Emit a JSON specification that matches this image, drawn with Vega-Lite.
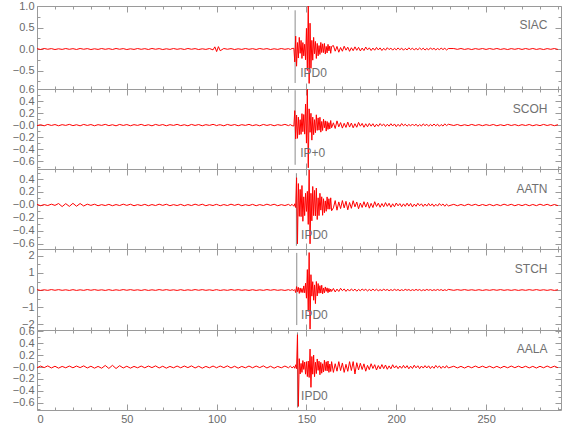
{
"$schema": "https://vega.github.io/schema/vega-lite/v6.json",
"padding": {"left": 5, "top": -1, "right": 5, "bottom": 5},
"background": "white",
"spacing": 0,
"bounds": "flush",
"config": {
  "view": {"stroke": "#9a9a9a", "strokeWidth": 1},
  "axis": {"domain": false, "grid": false, "tickColor": "#9a9a9a", "tickWidth": 1, "labelColor": "#6a6a6a", "labelFont": "Liberation Sans", "labelFontSize": 11, "labelOverlap": false, "labelBound": false, "title": null}
},
"datasets": {
"w": [
{"t":0,"SIAC":0.008,"SCOH":-0.009,"AATN":0.009,"STCH":0.02,"AALA":-0.013},
{"t":2,"SIAC":-0.011,"SCOH":0.006,"AATN":-0.012,"STCH":-0.025,"AALA":0.016},
{"t":4,"SIAC":0.012,"SCOH":-0.012,"AATN":0.006,"STCH":0.012,"AALA":-0.01},
{"t":6,"SIAC":-0.006,"SCOH":0.011,"AATN":-0.009,"STCH":-0.02,"AALA":0.019},
{"t":8,"SIAC":0.009,"SCOH":-0.006,"AATN":0.012,"STCH":0.025,"AALA":-0.016},
{"t":10,"SIAC":-0.012,"SCOH":0.009,"AATN":-0.007,"STCH":-0.015,"AALA":0.013},
{"t":12,"SIAC":0.005,"SCOH":-0.011,"AATN":0.022,"STCH":0.022,"AALA":-0.019},
{"t":14,"SIAC":-0.009,"SCOH":0.007,"AATN":-0.025,"STCH":-0.018,"AALA":0.01},
{"t":16,"SIAC":0.011,"SCOH":-0.005,"AATN":0.02,"STCH":0.012,"AALA":-0.013},
{"t":18,"SIAC":-0.007,"SCOH":0.012,"AATN":-0.022,"STCH":-0.025,"AALA":0.016},
{"t":20,"SIAC":0.008,"SCOH":-0.009,"AATN":0.025,"STCH":0.02,"AALA":-0.013},
{"t":22,"SIAC":-0.011,"SCOH":0.006,"AATN":-0.02,"STCH":-0.025,"AALA":0.016},
{"t":24,"SIAC":0.012,"SCOH":-0.012,"AATN":0.022,"STCH":0.012,"AALA":-0.01},
{"t":26,"SIAC":-0.006,"SCOH":0.011,"AATN":-0.016,"STCH":-0.02,"AALA":0.019},
{"t":28,"SIAC":0.009,"SCOH":-0.006,"AATN":0.012,"STCH":0.025,"AALA":-0.016},
{"t":30,"SIAC":-0.012,"SCOH":0.009,"AATN":-0.007,"STCH":-0.015,"AALA":0.013},
{"t":32,"SIAC":0.005,"SCOH":-0.011,"AATN":0.011,"STCH":0.022,"AALA":-0.019},
{"t":34,"SIAC":-0.009,"SCOH":0.007,"AATN":-0.012,"STCH":-0.018,"AALA":0.01},
{"t":36,"SIAC":0.011,"SCOH":-0.005,"AATN":0.005,"STCH":0.012,"AALA":-0.02},
{"t":38,"SIAC":-0.007,"SCOH":0.012,"AATN":-0.009,"STCH":-0.025,"AALA":0.026},
{"t":40,"SIAC":0.008,"SCOH":-0.009,"AATN":0.009,"STCH":0.02,"AALA":-0.024},
{"t":42,"SIAC":-0.011,"SCOH":0.006,"AATN":-0.012,"STCH":-0.025,"AALA":0.028},
{"t":44,"SIAC":0.012,"SCOH":-0.012,"AATN":0.006,"STCH":0.012,"AALA":-0.025},
{"t":46,"SIAC":-0.006,"SCOH":0.011,"AATN":-0.009,"STCH":-0.02,"AALA":0.022},
{"t":48,"SIAC":0.009,"SCOH":-0.006,"AATN":0.012,"STCH":0.025,"AALA":-0.016},
{"t":50,"SIAC":-0.012,"SCOH":0.009,"AATN":-0.007,"STCH":-0.015,"AALA":0.013},
{"t":52,"SIAC":0.005,"SCOH":-0.011,"AATN":0.011,"STCH":0.022,"AALA":-0.019},
{"t":54,"SIAC":-0.009,"SCOH":0.007,"AATN":-0.012,"STCH":-0.018,"AALA":0.01},
{"t":56,"SIAC":0.011,"SCOH":-0.005,"AATN":0.005,"STCH":0.012,"AALA":-0.013},
{"t":58,"SIAC":-0.007,"SCOH":0.012,"AATN":-0.009,"STCH":-0.025,"AALA":0.016},
{"t":60,"SIAC":0.008,"SCOH":-0.009,"AATN":0.009,"STCH":0.02,"AALA":-0.013},
{"t":62,"SIAC":-0.011,"SCOH":0.006,"AATN":-0.012,"STCH":-0.025,"AALA":0.016},
{"t":64,"SIAC":0.012,"SCOH":-0.012,"AATN":0.006,"STCH":0.012,"AALA":-0.01},
{"t":66,"SIAC":-0.006,"SCOH":0.011,"AATN":-0.009,"STCH":-0.02,"AALA":0.019},
{"t":68,"SIAC":0.009,"SCOH":-0.006,"AATN":0.012,"STCH":0.025,"AALA":-0.016},
{"t":70,"SIAC":-0.012,"SCOH":0.009,"AATN":-0.007,"STCH":-0.015,"AALA":0.013},
{"t":72,"SIAC":0.005,"SCOH":-0.011,"AATN":0.011,"STCH":0.022,"AALA":-0.019},
{"t":74,"SIAC":-0.009,"SCOH":0.007,"AATN":-0.012,"STCH":-0.018,"AALA":0.01},
{"t":76,"SIAC":0.011,"SCOH":-0.005,"AATN":0.005,"STCH":0.012,"AALA":-0.013},
{"t":78,"SIAC":-0.007,"SCOH":0.012,"AATN":-0.009,"STCH":-0.025,"AALA":0.016},
{"t":80,"SIAC":0.008,"SCOH":-0.009,"AATN":0.009,"STCH":0.02,"AALA":-0.013},
{"t":82,"SIAC":-0.011,"SCOH":0.006,"AATN":-0.012,"STCH":-0.025,"AALA":0.016},
{"t":84,"SIAC":0.012,"SCOH":-0.012,"AATN":0.006,"STCH":0.012,"AALA":-0.01},
{"t":86,"SIAC":-0.006,"SCOH":0.011,"AATN":-0.009,"STCH":-0.02,"AALA":0.019},
{"t":88,"SIAC":0.009,"SCOH":-0.006,"AATN":0.012,"STCH":0.025,"AALA":-0.016},
{"t":90,"SIAC":-0.012,"SCOH":0.009,"AATN":-0.007,"STCH":-0.015,"AALA":0.013},
{"t":92,"SIAC":0.005,"SCOH":-0.011,"AATN":0.011,"STCH":0.022,"AALA":-0.019},
{"t":94,"SIAC":-0.009,"SCOH":0.007,"AATN":-0.012,"STCH":-0.018,"AALA":0.01},
{"t":96,"SIAC":0.011,"SCOH":-0.005,"AATN":0.005,"STCH":0.012,"AALA":-0.013},
{"t":98,"SIAC":-0.02,"SCOH":0.012,"AATN":-0.009,"STCH":-0.025,"AALA":0.016},
{"t":99,"SIAC":0.05,"SCOH":0.003,"AATN":0.002,"STCH":0.004,"AALA":0.002},
{"t":100,"SIAC":-0.06,"SCOH":-0.009,"AATN":0.009,"STCH":0.02,"AALA":-0.013},
{"t":101,"SIAC":0.055,"SCOH":0.002,"AATN":-0.002,"STCH":-0.004,"AALA":0.003},
{"t":102,"SIAC":-0.04,"SCOH":0.006,"AATN":-0.012,"STCH":-0.025,"AALA":0.016},
{"t":104,"SIAC":0.012,"SCOH":-0.012,"AATN":0.006,"STCH":0.012,"AALA":-0.01},
{"t":106,"SIAC":-0.006,"SCOH":0.011,"AATN":-0.009,"STCH":-0.02,"AALA":0.019},
{"t":108,"SIAC":0.009,"SCOH":-0.006,"AATN":0.012,"STCH":0.025,"AALA":-0.016},
{"t":110,"SIAC":-0.012,"SCOH":0.009,"AATN":-0.007,"STCH":-0.015,"AALA":0.013},
{"t":112,"SIAC":0.005,"SCOH":-0.011,"AATN":0.011,"STCH":0.022,"AALA":-0.019},
{"t":114,"SIAC":-0.009,"SCOH":0.007,"AATN":-0.012,"STCH":-0.018,"AALA":0.01},
{"t":116,"SIAC":0.011,"SCOH":-0.005,"AATN":0.005,"STCH":0.012,"AALA":-0.013},
{"t":118,"SIAC":-0.007,"SCOH":0.012,"AATN":-0.009,"STCH":-0.025,"AALA":0.016},
{"t":120,"SIAC":0.008,"SCOH":-0.009,"AATN":0.009,"STCH":0.02,"AALA":-0.013},
{"t":122,"SIAC":-0.011,"SCOH":0.006,"AATN":-0.012,"STCH":-0.025,"AALA":0.016},
{"t":124,"SIAC":0.012,"SCOH":-0.012,"AATN":0.006,"STCH":0.012,"AALA":-0.01},
{"t":126,"SIAC":-0.006,"SCOH":0.011,"AATN":-0.009,"STCH":-0.02,"AALA":0.019},
{"t":128,"SIAC":0.009,"SCOH":-0.006,"AATN":0.012,"STCH":0.025,"AALA":-0.016},
{"t":130,"SIAC":-0.012,"SCOH":0.009,"AATN":-0.007,"STCH":-0.015,"AALA":0.013},
{"t":132,"SIAC":0.005,"SCOH":-0.011,"AATN":0.011,"STCH":0.022,"AALA":-0.019},
{"t":134,"SIAC":-0.009,"SCOH":0.007,"AATN":-0.012,"STCH":-0.018,"AALA":0.01},
{"t":136,"SIAC":0.011,"SCOH":-0.005,"AATN":0.005,"STCH":0.012,"AALA":-0.013},
{"t":138,"SIAC":-0.007,"SCOH":0.012,"AATN":-0.009,"STCH":-0.025,"AALA":0.016},
{"t":140,"SIAC":0.008,"SCOH":-0.009,"AATN":0.009,"STCH":0.02,"AALA":-0.013},
{"t":141,"SIAC":-0.01,"SCOH":0.008,"AATN":-0.011,"STCH":-0.022,"AALA":0.015},
{"t":142,"SIAC":0.012,"SCOH":-0.01,"AATN":0.009,"STCH":0.02,"AALA":-0.014},
{"t":143,"SIAC":0.016,"SCOH":-0.015,"AATN":-0.02,"STCH":-0.027,"AALA":0.011},
{"t":143.5,"SIAC":-0.3,"SCOH":0.24,"AATN":0.018,"STCH":0.025,"AALA":-0.021},
{"t":144,"SIAC":0.3,"SCOH":-0.23,"AATN":-0.04,"STCH":-0.15,"AALA":0.038},
{"t":144.5,"SIAC":-0.4,"SCOH":0.168,"AATN":0.42,"STCH":0.2,"AALA":-0.028},
{"t":145,"SIAC":0.15,"SCOH":-0.22,"AATN":-0.6,"STCH":-0.096,"AALA":0.54},
{"t":145.5,"SIAC":-0.21,"SCOH":0.132,"AATN":0.33,"STCH":0.154,"AALA":-0.66},
{"t":146,"SIAC":0.27,"SCOH":-0.16,"AATN":-0.176,"STCH":-0.2,"AALA":0.14},
{"t":146.5,"SIAC":-0.1,"SCOH":0.09,"AATN":0.24,"STCH":0.12,"AALA":-0.117},
{"t":147,"SIAC":0.2,"SCOH":-0.154,"AATN":-0.18,"STCH":-0.144,"AALA":0.06},
{"t":147.5,"SIAC":-0.22,"SCOH":0.19,"AATN":0.3,"STCH":0.09,"AALA":-0.09},
{"t":148,"SIAC":0.15,"SCOH":-0.11,"AATN":-0.252,"STCH":-0.154,"AALA":0.108},
{"t":148.5,"SIAC":-0.16,"SCOH":0.176,"AATN":0.125,"STCH":0.24,"AALA":-0.04},
{"t":149,"SIAC":0.11,"SCOH":-0.15,"AATN":-0.165,"STCH":-0.165,"AALA":0.084},
{"t":149.5,"SIAC":-0.25,"SCOH":0.35,"AATN":0.18,"STCH":0.4,"AALA":-0.12},
{"t":150,"SIAC":0.48,"SCOH":-0.3,"AATN":-0.1,"STCH":-0.48,"AALA":0.09},
{"t":150.5,"SIAC":-0.5,"SCOH":0.6,"AATN":0.21,"STCH":1.2,"AALA":-0.16},
{"t":151,"SIAC":1.0,"SCOH":-0.71,"AATN":-0.3,"STCH":-1.26,"AALA":0.1},
{"t":151.5,"SIAC":-0.8,"SCOH":0.27,"AATN":0.54,"STCH":2.2,"AALA":-0.175},
{"t":152,"SIAC":0.6,"SCOH":-0.12,"AATN":-0.6,"STCH":-2.3,"AALA":0.3},
{"t":152.5,"SIAC":-0.45,"SCOH":0.196,"AATN":0.18,"STCH":0.9,"AALA":-0.34},
{"t":153,"SIAC":0.2,"SCOH":-0.25,"AATN":-0.245,"STCH":-0.36,"AALA":0.176},
{"t":153.5,"SIAC":-0.26,"SCOH":0.132,"AATN":0.285,"STCH":0.49,"AALA":-0.12},
{"t":154,"SIAC":0.27,"SCOH":-0.16,"AATN":-0.165,"STCH":-0.6,"AALA":0.2},
{"t":154.5,"SIAC":-0.11,"SCOH":0.09,"AATN":0.224,"STCH":0.3,"AALA":-0.162},
{"t":155,"SIAC":0.175,"SCOH":-0.126,"AATN":-0.168,"STCH":-0.8,"AALA":0.08},
{"t":155.5,"SIAC":-0.22,"SCOH":0.171,"AATN":0.26,"STCH":0.5,"AALA":-0.11},
{"t":156,"SIAC":0.13,"SCOH":-0.088,"AATN":-0.225,"STCH":-0.35,"AALA":0.135},
{"t":156.5,"SIAC":-0.16,"SCOH":0.12,"AATN":0.11,"STCH":0.38,"AALA":-0.056},
{"t":157,"SIAC":0.08,"SCOH":-0.084,"AATN":-0.165,"STCH":-0.19,"AALA":0.098},
{"t":157.5,"SIAC":-0.126,"SCOH":0.13,"AATN":0.18,"STCH":0.256,"AALA":-0.13},
{"t":158,"SIAC":0.152,"SCOH":-0.117,"AATN":-0.08,"STCH":-0.18,"AALA":0.078},
{"t":158.5,"SIAC":-0.083,"SCOH":0.06,"AATN":0.126,"STCH":0.28,"AALA":-0.104},
{"t":159,"SIAC":0.12,"SCOH":-0.09,"AATN":-0.16,"STCH":-0.225,"AALA":0.054},
{"t":159.5,"SIAC":-0.084,"SCOH":0.099,"AATN":0.096,"STCH":0.12,"AALA":-0.084},
{"t":160,"SIAC":0.13,"SCOH":-0.044,"AATN":-0.12,"STCH":-0.165,"AALA":0.114},
{"t":160.5,"SIAC":-0.117,"SCOH":0.07,"AATN":0.063,"STCH":0.18,"AALA":-0.06},
{"t":161,"SIAC":0.06,"SCOH":-0.1,"AATN":-0.098,"STCH":-0.08,"AALA":0.088},
{"t":161.5,"SIAC":-0.09,"SCOH":0.06,"AATN":0.124,"STCH":0.126,"AALA":-0.066},
{"t":162,"SIAC":0.108,"SCOH":-0.072,"AATN":-0.066,"STCH":-0.16,"AALA":0.1},
{"t":162.5,"SIAC":-0.044,"SCOH":0.04,"AATN":0.096,"STCH":0.09,"AALA":-0.09},
{"t":163,"SIAC":0.07,"SCOH":-0.063,"AATN":-0.066,"STCH":-0.112,"AALA":0.05},
{"t":163.5,"SIAC":-0.1,"SCOH":0.076,"AATN":0.11,"STCH":0.059,"AALA":-0.075},
{"t":164,"SIAC":0.06,"SCOH":-0.044,"AATN":-0.09,"STCH":-0.084,"AALA":0.09},
{"t":165,"SIAC":0.081,"SCOH":0.038,"AATN":-0.045,"STCH":0.09,"AALA":-0.09},
{"t":166,"SIAC":-0.051,"SCOH":-0.056,"AATN":0.067,"STCH":-0.115,"AALA":0.055},
{"t":167,"SIAC":0.06,"SCOH":0.07,"AATN":-0.081,"STCH":0.055,"AALA":-0.07},
{"t":168,"SIAC":-0.075,"SCOH":-0.029,"AATN":0.047,"STCH":-0.084,"AALA":0.09},
{"t":169,"SIAC":0.035,"SCOH":0.042,"AATN":-0.056,"STCH":0.1,"AALA":-0.06},
{"t":170,"SIAC":-0.052,"SCOH":-0.05,"AATN":0.068,"STCH":-0.041,"AALA":0.068},
{"t":171,"SIAC":0.065,"SCOH":0.03,"AATN":-0.045,"STCH":0.063,"AALA":-0.09},
{"t":172,"SIAC":-0.027,"SCOH":-0.039,"AATN":0.056,"STCH":-0.081,"AALA":0.045},
{"t":173,"SIAC":0.042,"SCOH":0.05,"AATN":-0.075,"STCH":0.05,"AALA":-0.072},
{"t":174,"SIAC":-0.054,"SCOH":-0.033,"AATN":0.038,"STCH":-0.063,"AALA":0.09},
{"t":175,"SIAC":0.03,"SCOH":0.034,"AATN":-0.052,"STCH":0.063,"AALA":-0.059},
{"t":176,"SIAC":-0.039,"SCOH":-0.045,"AATN":0.065,"STCH":-0.042,"AALA":0.091},
{"t":177,"SIAC":0.05,"SCOH":0.023,"AATN":-0.029,"STCH":0.053,"AALA":-0.117},
{"t":178,"SIAC":-0.03,"SCOH":-0.036,"AATN":0.046,"STCH":-0.07,"AALA":0.072},
{"t":179,"SIAC":0.038,"SCOH":0.045,"AATN":-0.059,"STCH":0.035,"AALA":-0.049},
{"t":180,"SIAC":-0.045,"SCOH":-0.018,"AATN":0.03,"STCH":-0.048,"AALA":0.063},
{"t":181,"SIAC":0.023,"SCOH":0.028,"AATN":-0.039,"STCH":0.06,"AALA":-0.042},
{"t":182,"SIAC":-0.036,"SCOH":-0.036,"AATN":0.05,"STCH":-0.027,"AALA":0.053},
{"t":183,"SIAC":0.045,"SCOH":0.022,"AATN":-0.033,"STCH":0.042,"AALA":-0.07},
{"t":184,"SIAC":-0.02,"SCOH":-0.028,"AATN":0.041,"STCH":-0.054,"AALA":0.028},
{"t":185,"SIAC":0.028,"SCOH":0.027,"AATN":-0.05,"STCH":0.033,"AALA":-0.044},
{"t":186,"SIAC":-0.036,"SCOH":-0.018,"AATN":0.025,"STCH":-0.042,"AALA":0.055},
{"t":187,"SIAC":0.022,"SCOH":0.023,"AATN":-0.04,"STCH":0.054,"AALA":-0.025},
{"t":188,"SIAC":-0.028,"SCOH":-0.03,"AATN":0.05,"STCH":-0.036,"AALA":0.039},
{"t":189,"SIAC":0.036,"SCOH":0.015,"AATN":-0.023,"STCH":0.045,"AALA":-0.05},
{"t":190,"SIAC":-0.021,"SCOH":-0.02,"AATN":0.028,"STCH":-0.045,"AALA":0.025},
{"t":191,"SIAC":0.026,"SCOH":0.025,"AATN":-0.036,"STCH":0.023,"AALA":-0.032},
{"t":192,"SIAC":-0.035,"SCOH":-0.011,"AATN":0.022,"STCH":-0.036,"AALA":0.041},
{"t":193,"SIAC":0.018,"SCOH":0.018,"AATN":-0.028,"STCH":0.045,"AALA":-0.027},
{"t":194,"SIAC":-0.028,"SCOH":-0.023,"AATN":0.036,"STCH":-0.02,"AALA":0.034},
{"t":195,"SIAC":0.03,"SCOH":0.014,"AATN":-0.021,"STCH":0.032,"AALA":-0.038},
{"t":196,"SIAC":-0.014,"SCOH":-0.018,"AATN":0.026,"STCH":-0.041,"AALA":0.019},
{"t":197,"SIAC":0.021,"SCOH":0.023,"AATN":-0.035,"STCH":0.025,"AALA":-0.03},
{"t":198,"SIAC":-0.027,"SCOH":-0.015,"AATN":0.018,"STCH":-0.032,"AALA":0.038},
{"t":199,"SIAC":0.017,"SCOH":0.019,"AATN":-0.028,"STCH":0.041,"AALA":-0.017},
{"t":200,"SIAC":-0.02,"SCOH":-0.025,"AATN":0.03,"STCH":-0.024,"AALA":0.021},
{"t":201,"SIAC":0.025,"SCOH":0.013,"AATN":-0.014,"STCH":0.03,"AALA":-0.027},
{"t":202,"SIAC":-0.017,"SCOH":-0.02,"AATN":0.021,"STCH":-0.04,"AALA":0.017},
{"t":203,"SIAC":0.021,"SCOH":0.025,"AATN":-0.027,"STCH":0.02,"AALA":-0.021},
{"t":204,"SIAC":-0.028,"SCOH":-0.011,"AATN":0.017,"STCH":-0.032,"AALA":0.027},
{"t":205,"SIAC":0.014,"SCOH":0.014,"AATN":-0.021,"STCH":0.04,"AALA":-0.018},
{"t":206,"SIAC":-0.022,"SCOH":-0.018,"AATN":0.027,"STCH":-0.018,"AALA":0.023},
{"t":207,"SIAC":0.028,"SCOH":0.011,"AATN":-0.018,"STCH":0.028,"AALA":-0.03},
{"t":208,"SIAC":-0.013,"SCOH":-0.014,"AATN":0.023,"STCH":-0.036,"AALA":0.015},
{"t":209,"SIAC":0.02,"SCOH":0.018,"AATN":-0.03,"STCH":0.022,"AALA":-0.024},
{"t":210,"SIAC":-0.023,"SCOH":-0.012,"AATN":0.013,"STCH":-0.028,"AALA":0.03},
{"t":211,"SIAC":0.014,"SCOH":0.015,"AATN":-0.021,"STCH":0.036,"AALA":-0.014},
{"t":212,"SIAC":-0.018,"SCOH":-0.02,"AATN":0.026,"STCH":-0.024,"AALA":0.021},
{"t":213,"SIAC":0.023,"SCOH":0.01,"AATN":-0.012,"STCH":0.03,"AALA":-0.027},
{"t":214,"SIAC":-0.015,"SCOH":-0.016,"AATN":0.018,"STCH":-0.04,"AALA":0.017},
{"t":215,"SIAC":0.019,"SCOH":0.02,"AATN":-0.023,"STCH":0.018,"AALA":-0.018},
{"t":216,"SIAC":-0.025,"SCOH":-0.009,"AATN":0.014,"STCH":-0.028,"AALA":0.023},
{"t":217,"SIAC":0.013,"SCOH":0.014,"AATN":-0.018,"STCH":0.035,"AALA":-0.016},
{"t":218,"SIAC":-0.02,"SCOH":-0.018,"AATN":0.023,"STCH":-0.016,"AALA":0.02},
{"t":219,"SIAC":0.025,"SCOH":0.011,"AATN":-0.016,"STCH":0.025,"AALA":-0.026},
{"t":220,"SIAC":-0.01,"SCOH":-0.014,"AATN":0.017,"STCH":-0.032,"AALA":0.013},
{"t":221,"SIAC":0.015,"SCOH":0.018,"AATN":-0.022,"STCH":0.019,"AALA":-0.021},
{"t":222,"SIAC":-0.02,"SCOH":-0.012,"AATN":0.011,"STCH":-0.025,"AALA":0.026},
{"t":223,"SIAC":0.012,"SCOH":0.015,"AATN":-0.018,"STCH":0.032,"AALA":-0.012},
{"t":224,"SIAC":-0.015,"SCOH":-0.02,"AATN":0.022,"STCH":-0.021,"AALA":0.018},
{"t":225,"SIAC":0.02,"SCOH":0.01,"AATN":-0.01,"STCH":0.026,"AALA":-0.023},
{"t":226,"SIAC":-0.013,"SCOH":-0.016,"AATN":0.015,"STCH":-0.035,"AALA":0.014},
{"t":227,"SIAC":0.017,"SCOH":0.02,"AATN":-0.02,"STCH":0.018,"AALA":-0.018},
{"t":228,"SIAC":-0.022,"SCOH":-0.009,"AATN":0.012,"STCH":-0.028,"AALA":0.023},
{"t":229,"SIAC":0.011,"SCOH":0.014,"AATN":-0.015,"STCH":0.035,"AALA":-0.016},
{"t":232,"SIAC":0.011,"SCOH":-0.007,"AATN":0.009,"STCH":-0.018,"AALA":0.013},
{"t":234,"SIAC":-0.008,"SCOH":0.01,"AATN":-0.012,"STCH":0.021,"AALA":-0.015},
{"t":236,"SIAC":0.012,"SCOH":-0.011,"AATN":0.007,"STCH":-0.015,"AALA":0.011},
{"t":238,"SIAC":-0.01,"SCOH":0.006,"AATN":-0.011,"STCH":0.024,"AALA":-0.017},
{"t":240,"SIAC":0.007,"SCOH":-0.009,"AATN":0.012,"STCH":-0.018,"AALA":0.012},
{"t":242,"SIAC":-0.012,"SCOH":0.011,"AATN":-0.008,"STCH":0.015,"AALA":-0.013},
{"t":244,"SIAC":0.009,"SCOH":-0.007,"AATN":0.01,"STCH":-0.021,"AALA":0.016},
{"t":246,"SIAC":-0.007,"SCOH":0.008,"AATN":-0.012,"STCH":0.018,"AALA":-0.011},
{"t":248,"SIAC":0.011,"SCOH":-0.01,"AATN":0.007,"STCH":-0.024,"AALA":0.014},
{"t":250,"SIAC":-0.01,"SCOH":0.007,"AATN":-0.01,"STCH":0.015,"AALA":-0.012},
{"t":252,"SIAC":0.011,"SCOH":-0.007,"AATN":0.009,"STCH":-0.018,"AALA":0.013},
{"t":254,"SIAC":-0.008,"SCOH":0.01,"AATN":-0.012,"STCH":0.021,"AALA":-0.015},
{"t":256,"SIAC":0.012,"SCOH":-0.011,"AATN":0.007,"STCH":-0.015,"AALA":0.011},
{"t":258,"SIAC":-0.01,"SCOH":0.006,"AATN":-0.011,"STCH":0.024,"AALA":-0.017},
{"t":260,"SIAC":0.007,"SCOH":-0.009,"AATN":0.012,"STCH":-0.018,"AALA":0.012},
{"t":262,"SIAC":-0.012,"SCOH":0.011,"AATN":-0.008,"STCH":0.015,"AALA":-0.013},
{"t":264,"SIAC":0.009,"SCOH":-0.007,"AATN":0.01,"STCH":-0.021,"AALA":0.016},
{"t":266,"SIAC":-0.007,"SCOH":0.008,"AATN":-0.012,"STCH":0.018,"AALA":-0.011},
{"t":268,"SIAC":0.011,"SCOH":-0.01,"AATN":0.007,"STCH":-0.024,"AALA":0.014},
{"t":270,"SIAC":-0.01,"SCOH":0.007,"AATN":-0.01,"STCH":0.015,"AALA":-0.012},
{"t":272,"SIAC":0.011,"SCOH":-0.007,"AATN":0.009,"STCH":-0.018,"AALA":0.013},
{"t":274,"SIAC":-0.008,"SCOH":0.01,"AATN":-0.012,"STCH":0.021,"AALA":-0.015},
{"t":276,"SIAC":0.012,"SCOH":-0.011,"AATN":0.007,"STCH":-0.015,"AALA":0.011},
{"t":278,"SIAC":-0.01,"SCOH":0.006,"AATN":-0.011,"STCH":0.024,"AALA":-0.017},
{"t":280,"SIAC":0.007,"SCOH":-0.009,"AATN":0.012,"STCH":-0.018,"AALA":0.012},
{"t":282,"SIAC":-0.012,"SCOH":0.011,"AATN":-0.008,"STCH":0.015,"AALA":-0.013},
{"t":284,"SIAC":0.009,"SCOH":-0.007,"AATN":0.01,"STCH":-0.021,"AALA":0.016},
{"t":286,"SIAC":-0.007,"SCOH":0.008,"AATN":-0.012,"STCH":0.018,"AALA":-0.011},
{"t":288,"SIAC":0.011,"SCOH":-0.01,"AATN":0.007,"STCH":-0.024,"AALA":0.014},
{"t":290,"SIAC":-0.01,"SCOH":0.007,"AATN":-0.01,"STCH":0.015,"AALA":-0.012}
]
},
"vconcat": [
{
 "width": 524, "height": 83,
 "resolve": {"axis": {"x": "independent", "y": "independent"}},
 "layer": [
  {"data": {"values": [{}]}, "mark": {"type": "rule", "color": "#8c8c8c", "strokeWidth": 1},
   "encoding": {
    "x": {"datum": 143.7, "type": "quantitative", "scale": {"domain": [0, 291.7], "nice": false, "zero": false},
          "axis": {"orient": "top", "values": [0,10,20,30,40,50,60,70,80,90,100,110,120,130,140,150,160,170,180,190,200,210,220,230,240,250,260,270,280,290], "labels": false, "tickSize": {"condition": {"test": "datum.value % 50 == 0", "value": -6}, "value": -3}, "minExtent": 0, "maxExtent": 0}},
    "y": {"datum": 0.9, "type": "quantitative", "scale": {"domain": [-0.93, 1.0], "nice": false, "zero": false},
          "axis": {"orient": "right", "values": [-0.75,-0.5,-0.25,0,0.25,0.5,0.75,1], "labels": false, "tickSize": {"condition": {"test": "abs(round(datum.value*4)) % 2 == 0", "value": -6}, "value": -3}, "minExtent": 0, "maxExtent": 0}},
    "y2": {"datum": -0.79}
   }},
  {"data": {"name": "w"}, "mark": {"type": "line", "color": "#ff0000", "strokeWidth": 1},
   "encoding": {
    "x": {"field": "t", "type": "quantitative", "scale": {"domain": [0, 291.7], "nice": false, "zero": false},
          "axis": {"orient": "bottom", "values": [0,10,20,30,40,50,60,70,80,90,100,110,120,130,140,150,160,170,180,190,200,210,220,230,240,250,260,270,280,290], "labels": false, "tickSize": {"condition": {"test": "datum.value % 50 == 0", "value": -6}, "value": -3}, "minExtent": 0, "maxExtent": 0}},
    "y": {"field": "SIAC", "type": "quantitative", "scale": {"domain": [-0.93, 1.0], "nice": false, "zero": false},
          "axis": {"orient": "left", "values": [-0.75,-0.5,-0.25,0,0.25,0.5,0.75,1], "labelExpr": "abs(round(datum.value*4)) % 2 == 0 ? format(datum.value, '.1f') : ''", "labelPadding": 9, "tickSize": {"condition": {"test": "abs(round(datum.value*4)) % 2 == 0", "value": -6}, "value": -3}, "minExtent": 31, "maxExtent": 31}}
   }},
  {"data": {"values": [{}]}, "mark": {"type": "text", "text": "IPD0", "align": "left", "baseline": "middle", "color": "#707070", "font": "Liberation Sans", "fontSize": 12},
   "encoding": {
    "x": {"datum": 146.5, "type": "quantitative", "axis": null, "scale": {"domain": [0, 291.7], "nice": false, "zero": false}},
    "y": {"datum": -0.55, "type": "quantitative", "axis": null, "scale": {"domain": [-0.93, 1.0], "nice": false, "zero": false}}
   }},
  {"data": {"values": [{}]}, "mark": {"type": "text", "text": "SIAC", "align": "right", "baseline": "middle", "color": "#707070", "font": "Liberation Sans", "fontSize": 12},
   "encoding": {
    "x": {"datum": 284.2, "type": "quantitative", "axis": null, "scale": {"domain": [0, 291.7], "nice": false, "zero": false}},
    "y": {"datum": 0.55, "type": "quantitative", "axis": null, "scale": {"domain": [-0.93, 1.0], "nice": false, "zero": false}}
   }}
 ]
},
{
 "width": 524, "height": 80,
 "resolve": {"axis": {"x": "independent", "y": "independent"}},
 "layer": [
  {"data": {"values": [{}]}, "mark": {"type": "rule", "color": "#8c8c8c", "strokeWidth": 1},
   "encoding": {
    "x": {"datum": 143.7, "type": "quantitative", "scale": {"domain": [0, 291.7], "nice": false, "zero": false},
          "axis": {"orient": "top", "values": [0,10,20,30,40,50,60,70,80,90,100,110,120,130,140,150,160,170,180,190,200,210,220,230,240,250,260,270,280,290], "labels": false, "tickSize": {"condition": {"test": "datum.value % 50 == 0", "value": -6}, "value": -3}, "minExtent": 0, "maxExtent": 0}},
    "y": {"datum": 0.58, "type": "quantitative", "scale": {"domain": [-0.73, 0.6], "nice": false, "zero": false},
          "axis": {"orient": "right", "values": [-0.7,-0.6,-0.5,-0.4,-0.3,-0.2,-0.1,0,0.1,0.2,0.3,0.4,0.5,0.6], "labels": false, "tickSize": {"condition": {"test": "abs(round(datum.value*10)) % 2 == 0", "value": -6}, "value": -3}, "minExtent": 0, "maxExtent": 0}},
    "y2": {"datum": -0.66}
   }},
  {"data": {"name": "w"}, "mark": {"type": "line", "color": "#ff0000", "strokeWidth": 1},
   "encoding": {
    "x": {"field": "t", "type": "quantitative", "scale": {"domain": [0, 291.7], "nice": false, "zero": false},
          "axis": {"orient": "bottom", "values": [0,10,20,30,40,50,60,70,80,90,100,110,120,130,140,150,160,170,180,190,200,210,220,230,240,250,260,270,280,290], "labels": false, "tickSize": {"condition": {"test": "datum.value % 50 == 0", "value": -6}, "value": -3}, "minExtent": 0, "maxExtent": 0}},
    "y": {"field": "SCOH", "type": "quantitative", "scale": {"domain": [-0.73, 0.6], "nice": false, "zero": false},
          "axis": {"orient": "left", "values": [-0.7,-0.6,-0.5,-0.4,-0.3,-0.2,-0.1,0,0.1,0.2,0.3,0.4,0.5,0.6], "labelExpr": "datum.value == 0 ? '−0.0' : (abs(round(datum.value*10)) % 2 == 0 ? format(datum.value, '.1f') : '')", "labelPadding": 9, "tickSize": {"condition": {"test": "abs(round(datum.value*10)) % 2 == 0", "value": -6}, "value": -3}, "minExtent": 31, "maxExtent": 31}}
   }},
  {"data": {"values": [{}]}, "mark": {"type": "text", "text": "IP+0", "align": "left", "baseline": "middle", "color": "#707070", "font": "Liberation Sans", "fontSize": 12},
   "encoding": {
    "x": {"datum": 146.5, "type": "quantitative", "axis": null, "scale": {"domain": [0, 291.7], "nice": false, "zero": false}},
    "y": {"datum": -0.47, "type": "quantitative", "axis": null, "scale": {"domain": [-0.73, 0.6], "nice": false, "zero": false}}
   }},
  {"data": {"values": [{}]}, "mark": {"type": "text", "text": "SCOH", "align": "right", "baseline": "middle", "color": "#707070", "font": "Liberation Sans", "fontSize": 12},
   "encoding": {
    "x": {"datum": 284.2, "type": "quantitative", "axis": null, "scale": {"domain": [0, 291.7], "nice": false, "zero": false}},
    "y": {"datum": 0.26, "type": "quantitative", "axis": null, "scale": {"domain": [-0.73, 0.6], "nice": false, "zero": false}}
   }}
 ]
},
{
 "width": 524, "height": 80,
 "resolve": {"axis": {"x": "independent", "y": "independent"}},
 "layer": [
  {"data": {"values": [{}]}, "mark": {"type": "rule", "color": "#8c8c8c", "strokeWidth": 1},
   "encoding": {
    "x": {"datum": 144.4, "type": "quantitative", "scale": {"domain": [0, 291.7], "nice": false, "zero": false},
          "axis": {"orient": "top", "values": [0,10,20,30,40,50,60,70,80,90,100,110,120,130,140,150,160,170,180,190,200,210,220,230,240,250,260,270,280,290], "labels": false, "tickSize": {"condition": {"test": "datum.value % 50 == 0", "value": -6}, "value": -3}, "minExtent": 0, "maxExtent": 0}},
    "y": {"datum": 0.49, "type": "quantitative", "scale": {"domain": [-0.68, 0.555], "nice": false, "zero": false},
          "axis": {"orient": "right", "values": [-0.6,-0.5,-0.4,-0.3,-0.2,-0.1,0,0.1,0.2,0.3,0.4,0.5], "labels": false, "tickSize": {"condition": {"test": "abs(round(datum.value*10)) % 2 == 0", "value": -6}, "value": -3}, "minExtent": 0, "maxExtent": 0}},
    "y2": {"datum": -0.63}
   }},
  {"data": {"name": "w"}, "mark": {"type": "line", "color": "#ff0000", "strokeWidth": 1},
   "encoding": {
    "x": {"field": "t", "type": "quantitative", "scale": {"domain": [0, 291.7], "nice": false, "zero": false},
          "axis": {"orient": "bottom", "values": [0,10,20,30,40,50,60,70,80,90,100,110,120,130,140,150,160,170,180,190,200,210,220,230,240,250,260,270,280,290], "labels": false, "tickSize": {"condition": {"test": "datum.value % 50 == 0", "value": -6}, "value": -3}, "minExtent": 0, "maxExtent": 0}},
    "y": {"field": "AATN", "type": "quantitative", "scale": {"domain": [-0.68, 0.555], "nice": false, "zero": false},
          "axis": {"orient": "left", "values": [-0.6,-0.5,-0.4,-0.3,-0.2,-0.1,0,0.1,0.2,0.3,0.4,0.5], "labelExpr": "datum.value == 0 ? '−0.0' : (abs(round(datum.value*10)) % 2 == 0 ? format(datum.value, '.1f') : '')", "labelPadding": 9, "tickSize": {"condition": {"test": "abs(round(datum.value*10)) % 2 == 0", "value": -6}, "value": -3}, "minExtent": 31, "maxExtent": 31}}
   }},
  {"data": {"values": [{}]}, "mark": {"type": "text", "text": "IPD0", "align": "left", "baseline": "middle", "color": "#707070", "font": "Liberation Sans", "fontSize": 12},
   "encoding": {
    "x": {"datum": 147.0, "type": "quantitative", "axis": null, "scale": {"domain": [0, 291.7], "nice": false, "zero": false}},
    "y": {"datum": -0.46, "type": "quantitative", "axis": null, "scale": {"domain": [-0.68, 0.555], "nice": false, "zero": false}}
   }},
  {"data": {"values": [{}]}, "mark": {"type": "text", "text": "AATN", "align": "right", "baseline": "middle", "color": "#707070", "font": "Liberation Sans", "fontSize": 12},
   "encoding": {
    "x": {"datum": 284.2, "type": "quantitative", "axis": null, "scale": {"domain": [0, 291.7], "nice": false, "zero": false}},
    "y": {"datum": 0.25, "type": "quantitative", "axis": null, "scale": {"domain": [-0.68, 0.555], "nice": false, "zero": false}}
   }}
 ]
},
{
 "width": 524, "height": 81,
 "resolve": {"axis": {"x": "independent", "y": "independent"}},
 "layer": [
  {"data": {"values": [{}]}, "mark": {"type": "rule", "color": "#8c8c8c", "strokeWidth": 1},
   "encoding": {
    "x": {"datum": 144.6, "type": "quantitative", "scale": {"domain": [0, 291.7], "nice": false, "zero": false},
          "axis": {"orient": "top", "values": [0,10,20,30,40,50,60,70,80,90,100,110,120,130,140,150,160,170,180,190,200,210,220,230,240,250,260,270,280,290], "labels": false, "tickSize": {"condition": {"test": "datum.value % 50 == 0", "value": -6}, "value": -3}, "minExtent": 0, "maxExtent": 0}},
    "y": {"datum": 2.18, "type": "quantitative", "scale": {"domain": [-2.35, 2.41], "nice": false, "zero": false},
          "axis": {"orient": "right", "values": [-2,-1.5,-1,-0.5,0,0.5,1,1.5,2], "labels": false, "tickSize": {"condition": {"test": "abs(round(datum.value*2)) % 2 == 0", "value": -6}, "value": -3}, "minExtent": 0, "maxExtent": 0}},
    "y2": {"datum": -2.06}
   }},
  {"data": {"name": "w"}, "mark": {"type": "line", "color": "#ff0000", "strokeWidth": 1},
   "encoding": {
    "x": {"field": "t", "type": "quantitative", "scale": {"domain": [0, 291.7], "nice": false, "zero": false},
          "axis": {"orient": "bottom", "values": [0,10,20,30,40,50,60,70,80,90,100,110,120,130,140,150,160,170,180,190,200,210,220,230,240,250,260,270,280,290], "labels": false, "tickSize": {"condition": {"test": "datum.value % 50 == 0", "value": -6}, "value": -3}, "minExtent": 0, "maxExtent": 0}},
    "y": {"field": "STCH", "type": "quantitative", "scale": {"domain": [-2.35, 2.41], "nice": false, "zero": false},
          "axis": {"orient": "left", "values": [-2,-1.5,-1,-0.5,0,0.5,1,1.5,2], "labelExpr": "abs(round(datum.value*2)) % 2 == 0 ? format(datum.value, 'd') : ''", "labelPadding": 9, "tickSize": {"condition": {"test": "abs(round(datum.value*2)) % 2 == 0", "value": -6}, "value": -3}, "minExtent": 31, "maxExtent": 31}}
   }},
  {"data": {"values": [{}]}, "mark": {"type": "text", "text": "IPD0", "align": "left", "baseline": "middle", "color": "#707070", "font": "Liberation Sans", "fontSize": 12},
   "encoding": {
    "x": {"datum": 147.0, "type": "quantitative", "axis": null, "scale": {"domain": [0, 291.7], "nice": false, "zero": false}},
    "y": {"datum": -1.47, "type": "quantitative", "axis": null, "scale": {"domain": [-2.35, 2.41], "nice": false, "zero": false}}
   }},
  {"data": {"values": [{}]}, "mark": {"type": "text", "text": "STCH", "align": "right", "baseline": "middle", "color": "#707070", "font": "Liberation Sans", "fontSize": 12},
   "encoding": {
    "x": {"datum": 284.2, "type": "quantitative", "axis": null, "scale": {"domain": [0, 291.7], "nice": false, "zero": false}},
    "y": {"datum": 1.26, "type": "quantitative", "axis": null, "scale": {"domain": [-2.35, 2.41], "nice": false, "zero": false}}
   }}
 ]
},
{
 "width": 524, "height": 80,
 "resolve": {"axis": {"x": "independent", "y": "independent"}},
 "layer": [
  {"data": {"values": [{}]}, "mark": {"type": "rule", "color": "#8c8c8c", "strokeWidth": 1},
   "encoding": {
    "x": {"datum": 145.0, "type": "quantitative", "scale": {"domain": [0, 291.7], "nice": false, "zero": false},
          "axis": {"orient": "top", "values": [0,10,20,30,40,50,60,70,80,90,100,110,120,130,140,150,160,170,180,190,200,210,220,230,240,250,260,270,280,290], "labels": false, "tickSize": {"condition": {"test": "datum.value % 50 == 0", "value": -6}, "value": -3}, "minExtent": 0, "maxExtent": 0}},
    "y": {"datum": 0.58, "type": "quantitative", "scale": {"domain": [-0.72, 0.62], "nice": false, "zero": false},
          "axis": {"orient": "right", "values": [-0.7,-0.6,-0.5,-0.4,-0.3,-0.2,-0.1,0,0.1,0.2,0.3,0.4,0.5,0.6], "labels": false, "tickSize": {"condition": {"test": "abs(round(datum.value*10)) % 2 == 0", "value": -6}, "value": -3}, "minExtent": 0, "maxExtent": 0}},
    "y2": {"datum": -0.68}
   }},
  {"data": {"name": "w"}, "mark": {"type": "line", "color": "#ff0000", "strokeWidth": 1},
   "encoding": {
    "x": {"field": "t", "type": "quantitative", "scale": {"domain": [0, 291.7], "nice": false, "zero": false},
          "axis": {"orient": "bottom", "values": [0,10,20,30,40,50,60,70,80,90,100,110,120,130,140,150,160,170,180,190,200,210,220,230,240,250,260,270,280,290], "labelExpr": "datum.value % 50 == 0 ? format(datum.value, 'd') : ''", "labelPadding": 9, "tickSize": {"condition": {"test": "datum.value % 50 == 0", "value": -6}, "value": -3}}},
    "y": {"field": "AALA", "type": "quantitative", "scale": {"domain": [-0.72, 0.62], "nice": false, "zero": false},
          "axis": {"orient": "left", "values": [-0.7,-0.6,-0.5,-0.4,-0.3,-0.2,-0.1,0,0.1,0.2,0.3,0.4,0.5,0.6], "labelExpr": "datum.value == 0 ? '−0.0' : (abs(round(datum.value*10)) % 2 == 0 ? format(datum.value, '.1f') : '')", "labelPadding": 9, "tickSize": {"condition": {"test": "abs(round(datum.value*10)) % 2 == 0", "value": -6}, "value": -3}, "minExtent": 31, "maxExtent": 31}}
   }},
  {"data": {"values": [{}]}, "mark": {"type": "text", "text": "IPD0", "align": "left", "baseline": "middle", "color": "#707070", "font": "Liberation Sans", "fontSize": 12},
   "encoding": {
    "x": {"datum": 147.0, "type": "quantitative", "axis": null, "scale": {"domain": [0, 291.7], "nice": false, "zero": false}},
    "y": {"datum": -0.48, "type": "quantitative", "axis": null, "scale": {"domain": [-0.72, 0.62], "nice": false, "zero": false}}
   }},
  {"data": {"values": [{}]}, "mark": {"type": "text", "text": "AALA", "align": "right", "baseline": "middle", "color": "#707070", "font": "Liberation Sans", "fontSize": 12},
   "encoding": {
    "x": {"datum": 284.2, "type": "quantitative", "axis": null, "scale": {"domain": [0, 291.7], "nice": false, "zero": false}},
    "y": {"datum": 0.3, "type": "quantitative", "axis": null, "scale": {"domain": [-0.72, 0.62], "nice": false, "zero": false}}
   }}
 ]
}
]
}
